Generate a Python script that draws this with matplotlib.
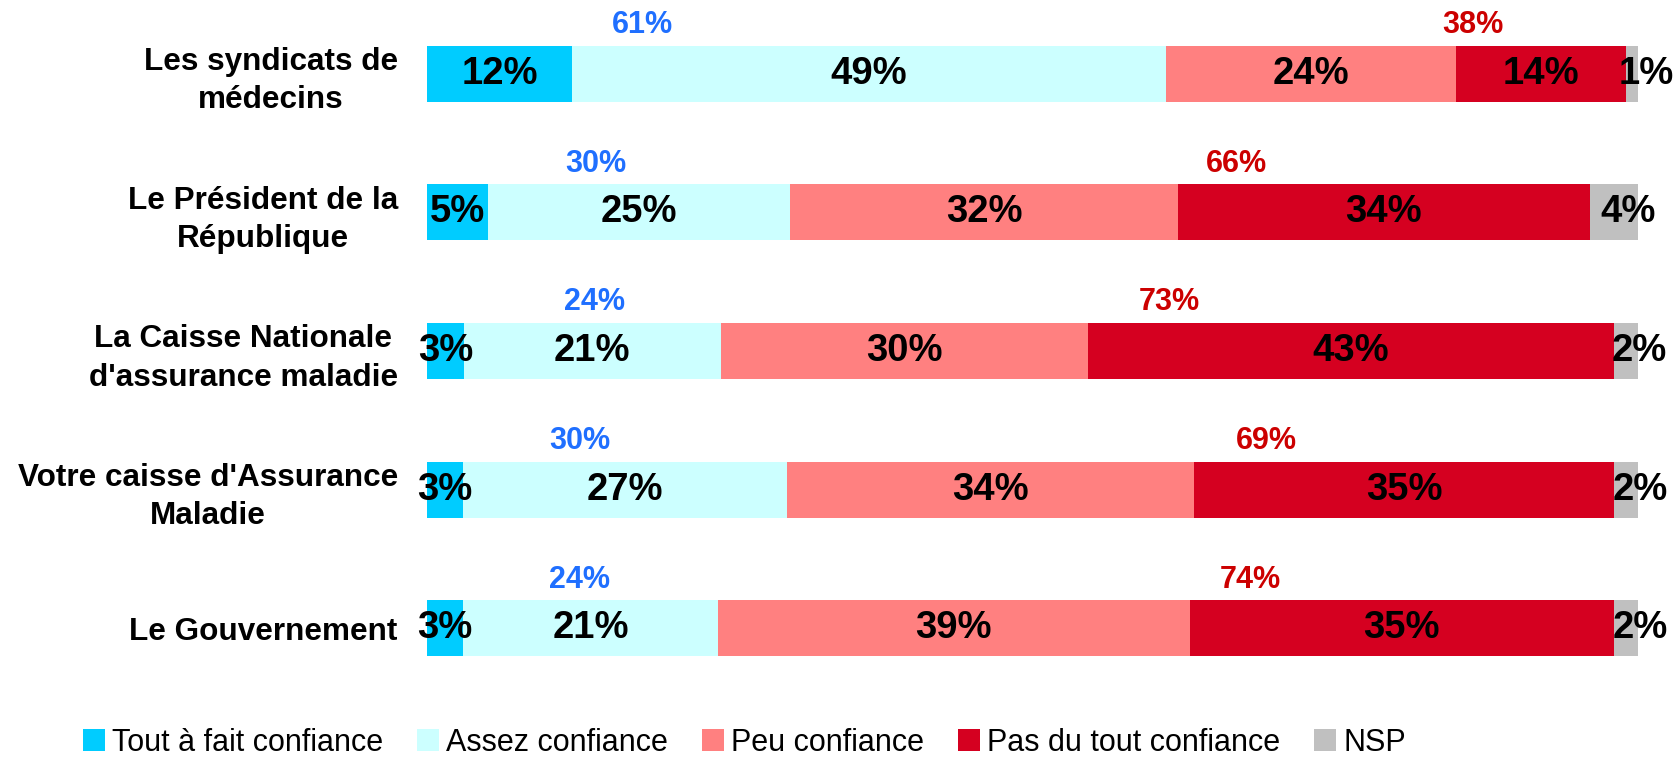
import matplotlib
matplotlib.use('Agg')
import matplotlib.pyplot as plt
import numpy as np
from matplotlib.patches import Patch

plt.rcParams['font.family'] = ['Liberation Sans', 'DejaVu Sans']

categories = ["Les syndicats de\nmédecins", "Le Président de la\nRépublique",
              "La Caisse Nationale\nd'assurance maladie",
              "Votre caisse d'Assurance\nMaladie", "Le Gouvernement"]
series_names = ["Tout à fait confiance", "Assez confiance", "Peu confiance",
                "Pas du tout confiance", "NSP"]
tout_a_fait = [12, 5, 3, 3, 3]
assez = [49, 25, 21, 27, 21]
peu = [24, 32, 30, 34, 39]
pas_du_tout = [14, 34, 43, 35, 35]
nsp = [1, 4, 2, 2, 2]
total_confiance = [61, 30, 24, 30, 24]
total_pas_confiance = [38, 66, 73, 69, 74]

# layout / style
colors = ['#00CCFF', '#CCFFFF', '#FF8080', '#D50020', '#C0C0C0']
conf_label_x = [17.8, 13.9, 13.8, 12.6, 12.6]
pasconf_label_x = [86.4, 66.8, 61.3, 69.3, 68.0]

W, H = 1677, 758
fig = plt.figure(figsize=(W / 100, H / 100), dpi=100)
ax = fig.add_axes([427 / W, 1 - 697.5 / H, (1638 - 427) / W, 693 / H])

data = np.array([tout_a_fait, assez, peu, pas_du_tout, nsp], dtype=float)
norm = data / data.sum(axis=0) * 100
y = np.arange(len(categories))
left = np.zeros(len(categories))
bar_h = 0.404
for i, name in enumerate(series_names):
    ax.barh(y, norm[i], left=left, height=bar_h, color=colors[i], label=name)
    centers = left + norm[i] / 2
    for j in range(len(categories)):
        dx = 10 if i == 4 else 0
        ax.annotate(f"{int(data[i, j])}%", (centers[j], y[j]), xytext=(dx, 0),
                    textcoords='offset points', ha='center', va='center',
                    fontsize=27.5, fontweight='bold', color='black')
    left = left + norm[i]

for j in range(len(categories)):
    ax.text(conf_label_x[j], y[j] - 0.35, f"{total_confiance[j]}%", ha='center',
            va='center', fontsize=22, fontweight='bold', color='#1F6FFF')
    ax.text(pasconf_label_x[j], y[j] - 0.35, f"{total_pas_confiance[j]}%", ha='center',
            va='center', fontsize=22, fontweight='bold', color='#CC0000')

ax.set_xlim(0, 100)
ax.set_ylim(4.5, -0.5)
ax.set_yticks(y)
ax.set_yticklabels(categories, fontsize=22.7, fontweight='bold')
for lab in ax.get_yticklabels():
    lab.set_multialignment('center')
    lab.set_linespacing(1.35)
ax.tick_params(axis='y', length=0, pad=21)
ax.set_xticks([])
for s in ax.spines.values():
    s.set_visible(False)

handles = [Patch(facecolor=c, edgecolor='none') for c in colors]
fig.legend(handles, series_names, loc='center left', bbox_to_anchor=(83 / W, 1 - 743 / H),
           ncol=5, frameon=False, fontsize=22, handlelength=0.72, handleheight=0.72,
           handletextpad=0.24, columnspacing=1.1, borderpad=0, borderaxespad=0)

fig.savefig('out.png', dpi=100)
